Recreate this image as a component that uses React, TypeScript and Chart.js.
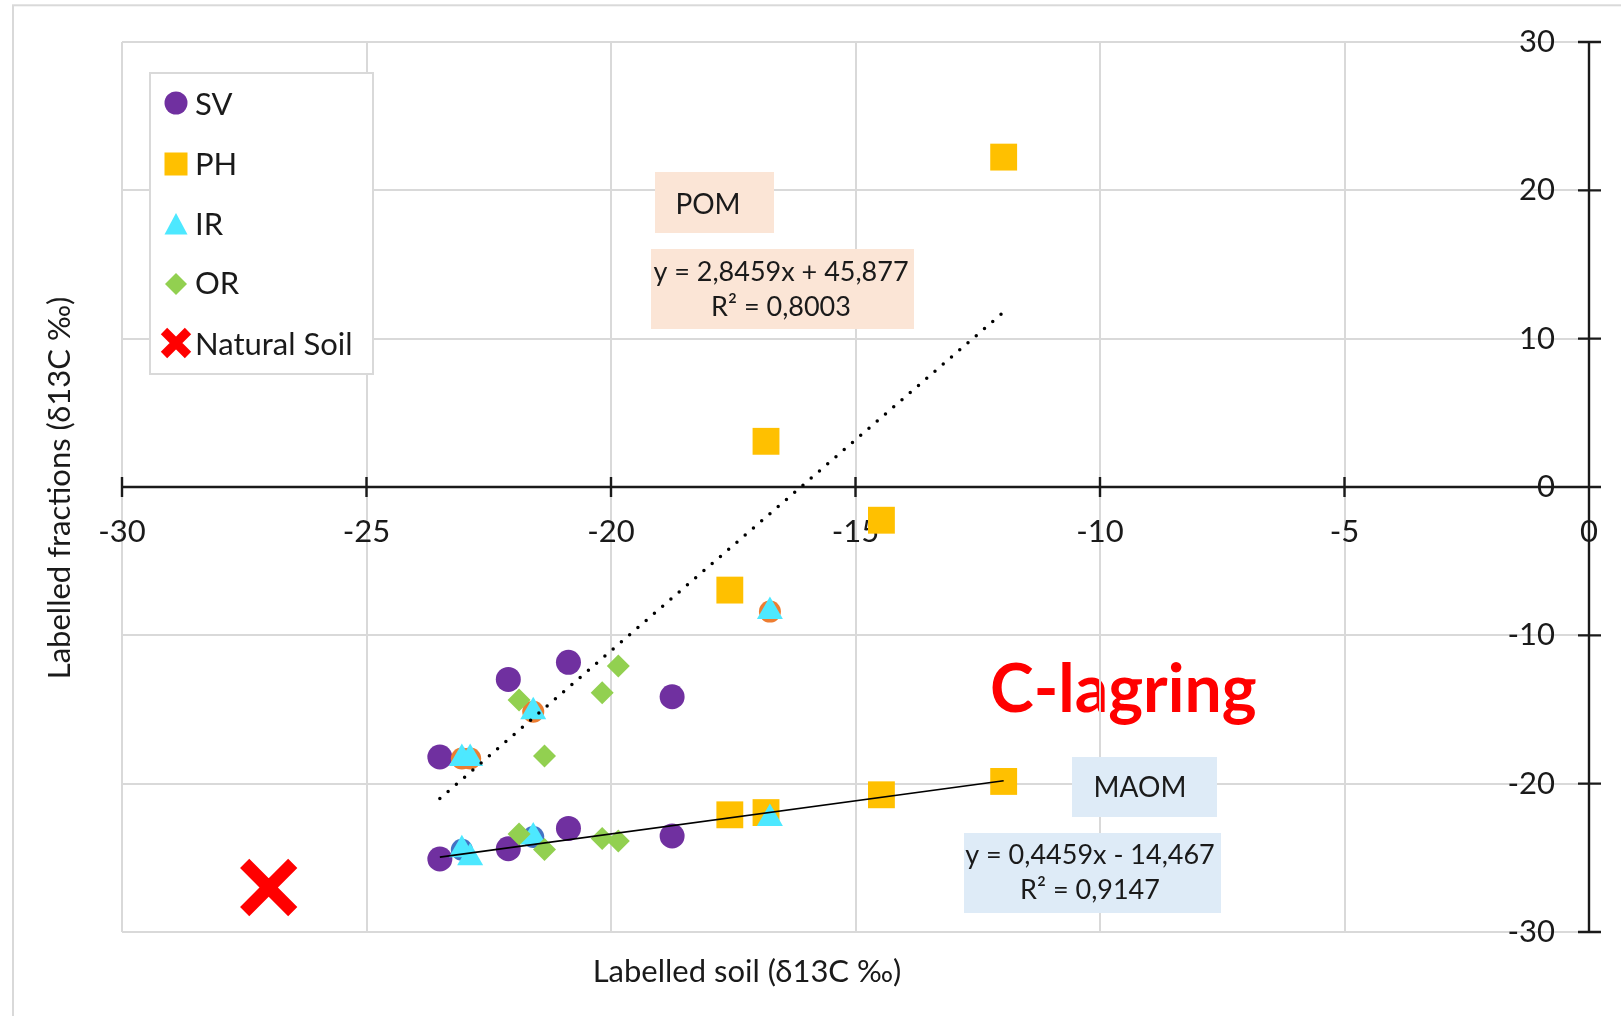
import React, { useEffect, useRef } from 'react';
import { Chart, registerables } from 'chart.js';

Chart.register(...registerables);

const W = 1621;
const H = 1016;

// ---- data ----
const xTickValues = [-30, -25, -20, -15, -10, -5, 0];
const yTickValues = [-30, -20, -10, 0, 10, 20, 30];

const svX = [-23.5, -22.1, -20.87, -18.75, -23.5, -22.1, -20.87, -18.75];
const svY = [-18.2, -12.97, -11.82, -14.14, -25.08, -24.39, -23.02, -23.53];

const phX = [-11.97, -16.83, -14.47, -17.57, -17.57, -16.83, -14.47, -11.97];
const phY = [22.24, 3.08, -2.24, -6.95, -22.1, -21.95, -20.75, -19.85];

const irX = [-23.05, -22.88, -21.59, -16.75, -23.05, -22.88, -21.59, -16.75];
const irY = [-18.3, -18.3, -15.15, -8.4, -24.45, -25.0, -23.6, -22.35];

const orX = [-21.88, -21.36, -20.18, -19.85, -21.88, -21.36, -20.18, -19.85];
const orY = [-14.36, -18.14, -13.87, -12.07, -23.4, -24.43, -23.69, -23.87];

const naturalX = [-27.0];
const naturalY = [-27.0];

// partly hidden markers peeking out behind the IR triangles
const hiddenOrangeX = [-23.05, -22.88, -21.59, -16.75];
const hiddenOrangeY = [-18.3, -18.3, -15.15, -8.4];
const hiddenBlueX = [-23.05, -21.59];
const hiddenBlueY = [-24.45, -23.6];

// trend lines (end points as drawn)
const pomTrendX = [-23.5, -11.97];
const pomTrendY = [-21.0, 11.8];
const maomTrendX = [-23.5, -11.97];
const maomTrendY = [-24.95, -19.8];

const legendLabels = ['SV', 'PH', 'IR', 'OR', 'Natural Soil'];
const pomLabel = 'POM';
const pomEquation = ['y = 2,8459x + 45,877', 'R² = 0,8003'];
const maomLabel = 'MAOM';
const maomEquation = ['y = 0,4459x - 14,467', 'R² = 0,9147'];
const bigLabel = 'C-lagring';
const xTitle = 'Labelled soil (δ13C ‰)';
const yTitle = 'Labelled fractions (δ13C ‰)';

// ---- styles ----
const FONT = 'Lato, "Open Sans", sans-serif';
const TEXT = '#1a1a1a';
const GRID = '#d9d9d9';
const C_SV = '#7030A0';
const C_PH = '#FFC000';
const C_IR = '#4DE8FF';
const C_OR = '#92D050';
const C_NAT = '#FF0000';

const zip = (xs: number[], ys: number[]) => xs.map((x, i) => ({ x, y: ys[i] }));

function drawMarker(ctx: CanvasRenderingContext2D, kind: string, x: number, y: number) {
  ctx.save();
  if (kind === 'circle') {
    ctx.fillStyle = C_SV;
    ctx.beginPath();
    ctx.arc(x, y, 11.5, 0, Math.PI * 2);
    ctx.fill();
  } else if (kind === 'square') {
    ctx.fillStyle = C_PH;
    ctx.fillRect(x - 11.5, y - 11.5, 23, 23);
  } else if (kind === 'triangle') {
    ctx.fillStyle = C_IR;
    ctx.beginPath();
    ctx.moveTo(x, y - 11);
    ctx.lineTo(x + 11.5, y + 10.5);
    ctx.lineTo(x - 11.5, y + 10.5);
    ctx.closePath();
    ctx.fill();
  } else if (kind === 'diamond') {
    ctx.fillStyle = C_OR;
    ctx.beginPath();
    ctx.moveTo(x, y - 11);
    ctx.lineTo(x + 11, y);
    ctx.lineTo(x, y + 11);
    ctx.lineTo(x - 11, y);
    ctx.closePath();
    ctx.fill();
  } else if (kind === 'cross') {
    ctx.strokeStyle = C_NAT;
    ctx.lineWidth = 9;
    ctx.beginPath();
    ctx.moveTo(x - 12, y - 12);
    ctx.lineTo(x + 12, y + 12);
    ctx.moveTo(x + 12, y - 12);
    ctx.lineTo(x - 12, y + 12);
    ctx.stroke();
  }
  ctx.restore();
}

function drawBox(
  ctx: CanvasRenderingContext2D,
  x1: number, y1: number, x2: number, y2: number, fill: string,
) {
  ctx.fillStyle = fill;
  ctx.fillRect(x1, y1, x2 - x1, y2 - y1);
}

const decorPlugin = {
  id: 'decor',
  beforeDraw(chart: any) {
    const ctx: CanvasRenderingContext2D = chart.ctx;
    ctx.save();
    // outer chart frame
    ctx.strokeStyle = GRID;
    ctx.lineWidth = 2;
    ctx.strokeRect(13, 5.3, 1700, 1100);
    // big red label (grid lines are drawn over it)
    ctx.fillStyle = '#FF0000';
    ctx.font = `bold 66px ${FONT}`;
    ctx.textAlign = 'left';
    ctx.textBaseline = 'alphabetic';
    ctx.fillText(bigLabel, 990, 712);
    ctx.restore();
  },
  beforeDatasetsDraw(chart: any) {
    const ctx: CanvasRenderingContext2D = chart.ctx;
    const xs = chart.scales.x;
    const ys = chart.scales.y;
    const area = chart.chartArea;
    ctx.save();
    // annotation boxes
    drawBox(ctx, 655, 172, 774, 233, '#FBE5D6');
    drawBox(ctx, 651, 249, 914, 329, '#FBE5D6');
    drawBox(ctx, 1072, 757, 1217, 817, '#DEEBF7');
    drawBox(ctx, 964, 833, 1221, 913, '#DEEBF7');
    ctx.fillStyle = TEXT;
    ctx.textAlign = 'center';
    ctx.textBaseline = 'alphabetic';
    ctx.font = `28px ${FONT}`;
    ctx.fillText(pomLabel, 708, 214);
    ctx.fillText(maomLabel, 1140, 797);
    ctx.font = `27px ${FONT}`;
    ctx.fillText(pomEquation[0], 781, 281);
    ctx.fillText(pomEquation[1], 781, 316);
    ctx.fillText(maomEquation[0], 1090, 864);
    ctx.fillText(maomEquation[1], 1090, 899);

    // axes crossing at 0 with crossing tick marks
    const x0 = xs.getPixelForValue(0);
    const y0 = ys.getPixelForValue(0);
    ctx.strokeStyle = '#1a1a1a';
    ctx.lineWidth = 2.4;
    ctx.lineCap = 'butt';
    ctx.beginPath();
    ctx.moveTo(area.left, y0);
    ctx.lineTo(area.right, y0);
    ctx.moveTo(x0, area.top);
    ctx.lineTo(x0, area.bottom);
    for (const v of xTickValues) {
      const px = xs.getPixelForValue(v);
      ctx.moveTo(px, y0 - 10);
      ctx.lineTo(px, y0 + 10);
    }
    for (const v of yTickValues) {
      const py = ys.getPixelForValue(v);
      ctx.moveTo(x0 - 11, py);
      ctx.lineTo(x0 + 12, py);
    }
    ctx.stroke();

    // y tick labels, right-aligned left of the vertical axis
    ctx.fillStyle = TEXT;
    ctx.font = `31px ${FONT}`;
    ctx.textAlign = 'right';
    ctx.textBaseline = 'middle';
    for (const t of ys.ticks) {
      ctx.fillText(String(t.label), x0 - 34, ys.getPixelForValue(t.value));
    }
    ctx.restore();
  },
  afterDatasetsDraw(chart: any) {
    const ctx: CanvasRenderingContext2D = chart.ctx;
    ctx.save();
    // legend
    ctx.fillStyle = '#ffffff';
    ctx.fillRect(150, 73, 223, 301);
    ctx.strokeStyle = GRID;
    ctx.lineWidth = 2;
    ctx.strokeRect(150, 73, 223, 301);
    const kinds = ['circle', 'square', 'triangle', 'diamond', 'cross'];
    const markerY = [103, 164, 224, 284, 343];
    const textY = [115, 175, 235, 294, 355];
    ctx.font = `31px ${FONT}`;
    ctx.fillStyle = TEXT;
    ctx.textAlign = 'left';
    ctx.textBaseline = 'alphabetic';
    legendLabels.forEach((lab, i) => {
      drawMarker(ctx, kinds[i], 176, markerY[i]);
      ctx.fillStyle = TEXT;
      ctx.fillText(lab, 195, textY[i]);
    });

    // axis titles
    ctx.font = `31px ${FONT}`;
    ctx.fillStyle = TEXT;
    ctx.textAlign = 'center';
    ctx.fillText(xTitle, 747, 982);
    ctx.translate(70, 488);
    ctx.rotate(-Math.PI / 2);
    ctx.fillText(yTitle, 0, 0);
    ctx.restore();
  },
};

export default function App() {
  const ref = useRef<HTMLCanvasElement | null>(null);

  useEffect(() => {
    const canvas = ref.current;
    if (!canvas) return;
    const chart = new Chart(canvas, {
      type: 'scatter',
      data: {
        datasets: [
          {
            label: 'POM trend',
            data: zip(pomTrendX, pomTrendY),
            showLine: true,
            borderColor: '#000000',
            borderWidth: 3.5,
            borderDash: [0, 10.9],
            borderCapStyle: 'round',
            pointRadius: 0,
            order: 0,
          },
          {
            label: 'MAOM trend',
            data: zip(maomTrendX, maomTrendY),
            showLine: true,
            borderColor: '#000000',
            borderWidth: 1.6,
            pointRadius: 0,
            order: 0,
          },
          {
            label: legendLabels[4],
            data: zip(naturalX, naturalY),
            pointStyle: 'crossRot',
            pointRadius: 34,
            pointBorderWidth: 13,
            pointBorderColor: C_NAT,
            pointBackgroundColor: C_NAT,
            order: 1,
          },
          {
            label: legendLabels[3],
            data: zip(orX, orY),
            pointStyle: 'rectRot',
            pointRadius: 11.5,
            pointBorderWidth: 0,
            pointBackgroundColor: C_OR,
            pointBorderColor: C_OR,
            order: 2,
          },
          {
            label: legendLabels[2],
            data: zip(irX, irY),
            pointStyle: 'triangle',
            pointRadius: 15,
            pointBorderWidth: 0,
            pointBackgroundColor: C_IR,
            pointBorderColor: C_IR,
            order: 3,
          },
          {
            label: 'hidden orange',
            data: zip(hiddenOrangeX, hiddenOrangeY),
            pointStyle: 'circle',
            pointRadius: 11,
            pointBorderWidth: 0,
            pointBackgroundColor: '#ED7D31',
            order: 4,
          },
          {
            label: 'hidden blue',
            data: zip(hiddenBlueX, hiddenBlueY),
            pointStyle: 'circle',
            pointRadius: 11,
            pointBorderWidth: 0,
            pointBackgroundColor: '#4472C4',
            order: 4,
          },
          {
            label: legendLabels[1],
            data: zip(phX, phY),
            pointStyle: 'rect',
            pointRadius: 19,
            pointBorderWidth: 0,
            pointBackgroundColor: C_PH,
            pointBorderColor: C_PH,
            order: 5,
          },
          {
            label: legendLabels[0],
            data: zip(svX, svY),
            pointStyle: 'circle',
            pointRadius: 12.5,
            pointBorderWidth: 0,
            pointBackgroundColor: C_SV,
            pointBorderColor: C_SV,
            order: 6,
          },
        ],
      },
      options: {
        responsive: false,
        animation: false,
        devicePixelRatio: 1,
        events: [],
        layout: {
          autoPadding: false,
          padding: { left: 122, top: 42, right: 32, bottom: 84 },
        },
        plugins: {
          legend: { display: false },
          tooltip: { enabled: false },
          title: { display: false },
        },
        scales: {
          x: {
            type: 'linear',
            min: -30,
            max: 0,
            position: { y: 0 } as any,
            grid: {
              color: GRID,
              lineWidth: 2,
              drawTicks: true,
              tickLength: 26,
              tickColor: 'rgba(0,0,0,0)',
            },
            border: { display: false },
            ticks: {
              stepSize: 5,
              padding: 0,
              color: TEXT,
              font: { family: FONT, size: 31 },
              maxRotation: 0,
              autoSkip: false,
            },
          },
          y: {
            type: 'linear',
            min: -30,
            max: 30,
            position: { x: 0 } as any,
            grid: {
              color: GRID,
              lineWidth: 2,
              drawTicks: false,
            },
            border: { display: false },
            ticks: {
              display: false,
              stepSize: 10,
              padding: 0,
              color: TEXT,
              font: { family: FONT, size: 31 },
              autoSkip: false,
            },
          },
        },
      } as any,
      plugins: [decorPlugin],
    });
    let alive = true;
    if ((document as any).fonts && (document as any).fonts.ready) {
      (document as any).fonts.ready.then(() => {
        if (alive) chart.update();
      });
    }
    return () => {
      alive = false;
      chart.destroy();
    };
  }, []);

  return (
    <div style={{ position: 'absolute', left: 0, top: 0, width: W, height: H, background: '#ffffff' }}>
      <canvas ref={ref} width={W} height={H} style={{ display: 'block', width: W, height: H }} />
    </div>
  );
}
